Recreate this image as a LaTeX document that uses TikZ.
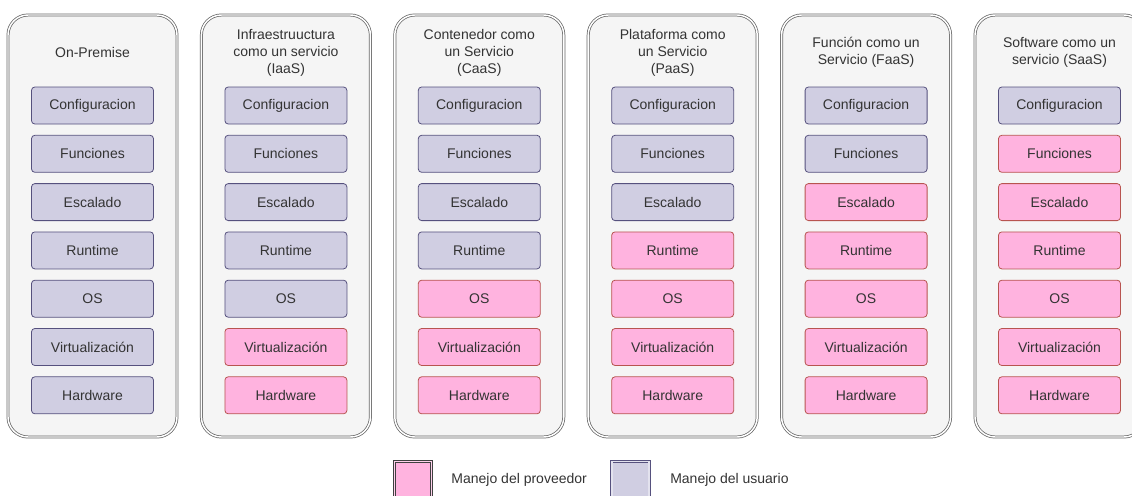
\documentclass[tikz,border=0pt]{standalone}
\usepackage{fontspec}
\setmainfont{Liberation Sans}
\usetikzlibrary{positioning}

\definecolor{provfill}{HTML}{FFB3DF}
\definecolor{provline}{HTML}{B85450}
\definecolor{userfill}{HTML}{D0CEE2}
\definecolor{userline}{HTML}{56517E}
\definecolor{panelfill}{HTML}{F5F5F5}
\definecolor{panelline}{HTML}{666666}
\definecolor{txt}{HTML}{333333}

\begin{document}
\begin{tikzpicture}[x=0.75pt, y=-0.75pt,
    every node/.style={font=\fontsize{10.5}{12.75}\selectfont, text=txt},
    panel/.style={draw=panelline, double=white, double distance=1.1pt, line width=0.55pt,
        fill=panelfill, rounded corners=15pt, minimum width=126.75pt, minimum height=316.5pt},
    layer/.style={rounded corners=2.5pt, line width=0.6pt, minimum width=91.5pt, minimum height=27.75pt},
    user/.style={layer, fill=userfill, draw=userline},
    prov/.style={layer, fill=provfill, draw=provline},
    keybox/.style={line width=0.6pt, double distance=1.1pt, minimum size=28pt}
  ]
    \useasboundingbox (0,0) rectangle (1132,496);

    % one panel per service model, n = layers run by the provider
    \foreach \name/\title/\n [count=\i from 0] in {
        onprem/{On-Premise}/0,
        iaas/{Infraestruuctura\\como un servicio\\(IaaS)}/2,
        caas/{Contenedor como\\un Servicio\\(CaaS)}/3,
        paas/{Plataforma como\\un Servicio\\(PaaS)}/4,
        faas/{Función como un\\Servicio (FaaS)}/5,
        saas/{Software como un\\servicio (SaaS)}/6} {
      \node[panel] (\name) at ({92.5+193.4*\i},226) {};
      \node[align=center] (\name-title) at ({92.5+193.4*\i},52.5) {\title};
      \foreach \layer [count=\k from 0] in {Configuracion,Funciones,Escalado,Runtime,OS,Virtualización,Hardware} {
        \ifnum\numexpr\k+\n\relax<7 \def\kind{user}\else\def\kind{prov}\fi
        \node[\kind] (\name-\k) at ({92.5+193.4*\i},{105.5+48.3*\k}) {\layer};
      }
    }

    % legend
    \node[keybox, fill=provfill, draw=black!75, double=provfill!60] (keyprov) at (413,480) {};
    \node[right=11pt of keyprov] (keyprov-text) {Manejo del proveedor};
    \node[keybox, fill=userfill, draw=userline, double=userfill!60] (keyuser) at (630.5,480) {};
    \node[right=12pt of keyuser] (keyuser-text) {Manejo del usuario};
\end{tikzpicture}
\end{document}
